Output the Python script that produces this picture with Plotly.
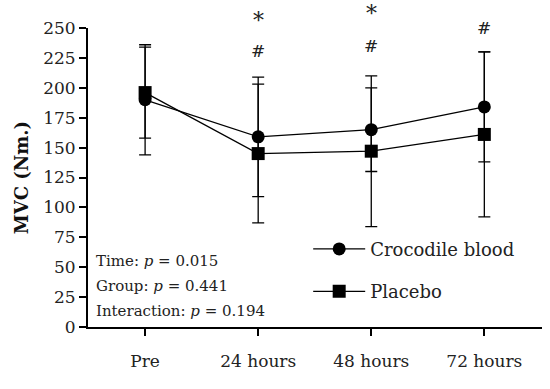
import plotly.graph_objects as go

categories = ["Pre", "24 hours", "48 hours", "72 hours"]
croc_mean = [190, 159, 165, 184]
croc_sd = [46, 50, 35, 46]
placebo_mean = [196, 145, 147, 161]
placebo_sd = [38, 58, 63, 69]
y_ticks = [0, 25, 50, 75, 100, 125, 150, 175, 200, 225, 250]
y_max = 250

# significance markers: (category index, symbol, y value)
sig_marks = [(1, "*", 256), (1, "#", 231), (2, "*", 262), (2, "#", 235), (3, "#", 250)]
stats_lines = ["Time: <i>p</i> = 0.015", "Group: <i>p</i> = 0.441", "Interaction: <i>p</i> = 0.194"]

FONT = "DejaVu Serif"
x_idx = list(range(len(categories)))

fig = go.Figure()
fig.add_trace(go.Scatter(
    x=x_idx, y=croc_mean, name="Crocodile blood", mode="lines+markers",
    line=dict(color="black", width=1.3),
    marker=dict(symbol="circle", size=13, color="black"),
    error_y=dict(type="data", array=croc_sd, color="black", thickness=1.3, width=6),
    legendgroup="a",
))
fig.add_trace(go.Scatter(
    x=x_idx, y=placebo_mean, name="Placebo", mode="lines+markers",
    line=dict(color="black", width=1.3),
    marker=dict(symbol="square", size=13, color="black"),
    error_y=dict(type="data", array=placebo_sd, color="black", thickness=1.3, width=6),
    legendgroup="b",
))

for xi, sym, yv in sig_marks:
    fig.add_annotation(x=xi, y=yv / y_max, xref="x", yref="paper", text=sym, showarrow=False,
                       yanchor="middle",
                       font=dict(family=FONT, size=17 if sym == "#" else 22, color="#222"))

for i, t in enumerate(stats_lines):
    fig.add_annotation(x=0.013, y=0.222 - i * 0.085, xref="paper", yref="paper",
                       xanchor="left", yanchor="middle", text=t, showarrow=False,
                       font=dict(family=FONT, size=15, color="#222"))

fig.update_layout(
    width=550, height=389,
    margin=dict(l=88, r=8, t=28, b=62),
    plot_bgcolor="white", paper_bgcolor="white",
    font=dict(family=FONT, color="#222"),
    showlegend=True,
    legend=dict(x=0.485, y=0.19, xanchor="left", yanchor="middle",
                font=dict(family=FONT, size=18, color="#222"),
                tracegroupgap=16, itemwidth=52, bgcolor="rgba(0,0,0,0)"),
    xaxis=dict(
        tickmode="array", tickvals=x_idx, ticktext=categories,
        range=[-0.505, 3.51], showgrid=False, zeroline=False, automargin=False,
        showline=True, linecolor="black", linewidth=2,
        ticks="outside", ticklen=7, tickwidth=2, tickcolor="black",
        tickfont=dict(family=FONT, size=17, color="#222"),
        ticklabelstandoff=11,
    ),
    yaxis=dict(
        range=[0, y_max], tickvals=y_ticks, showgrid=False, zeroline=False, automargin=False,
        showline=True, linecolor="black", linewidth=2,
        ticks="outside", ticklen=7, tickwidth=2, tickcolor="black",
        tickfont=dict(family=FONT, size=17, color="#222"),
        title=dict(text="<b>MVC (Nm.)</b>", font=dict(family=FONT, size=18, color="#111"), standoff=10),
    ),
)

fig.write_html("out.html", config={"displayModeBar": False},
               post_script="document.body.style.margin='0px';")
